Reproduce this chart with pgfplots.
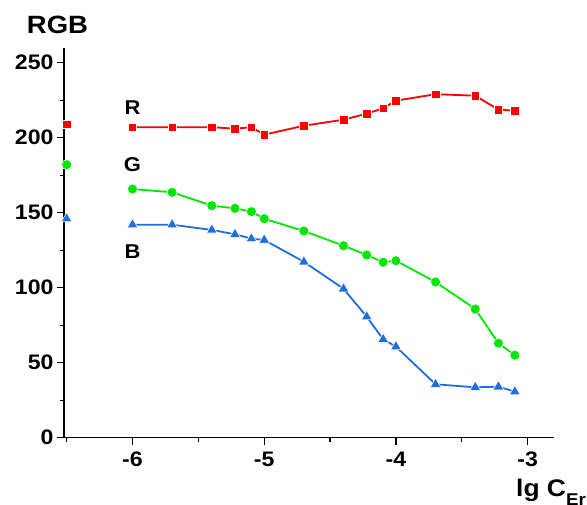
\documentclass[border=0pt]{standalone}
\usepackage{pgfplots}
\pgfplotsset{compat=1.18}
\usepackage{fontspec}
\setmainfont[FakeStretch=1.1]{Liberation Sans}
\definecolor{rr}{RGB}{255,0,0}
\definecolor{gg}{RGB}{0,230,0}
\definecolor{bb}{RGB}{30,110,220}
\begin{document}
\begin{tikzpicture}
\begin{axis}[
  at={(0,0)}, anchor=south west,
  scale only axis, width=490pt, height=390pt,
  xmin=-6.52, xmax=-2.8, ymin=0, ymax=260,
  axis x line*=bottom, axis y line*=left,
  axis line style={line width=1.2pt, -},
  xtick={-6,-5,-4,-3}, minor xtick={-6.5,-5.5,-4.5,-3.5},
  ytick={0,50,100,150,200,250}, minor ytick={25,75,125,175,225},
  tick align=outside,
  major tick length=7pt, minor tick length=4pt,
  every tick/.style={line width=1.2pt, black},
  tick label style={font=\fontsize{21}{24}\selectfont\bfseries},
  /pgf/number format/assume math mode=true,
  xticklabel style={yshift=-4pt},
  yticklabel style={xshift=0pt},
  clip=false,
]
\addplot[rr, line width=1.8pt, mark=square*, mark size=4.3pt, mark options={solid, fill=rr, draw=white, line width=0.6pt}]
coordinates {(-6,207)(-5.699,207)(-5.398,207)(-5.222,206)(-5.097,207)(-5,202)(-4.699,208)(-4.398,212)(-4.222,216)(-4.097,219.6)(-4,224.7)(-3.699,229)(-3.398,228)(-3.222,218.7)(-3.097,218)};
\addplot[only marks, mark=square*, mark size=4.3pt, mark options={fill=rr, draw=white, line width=0.6pt}] coordinates {(-6.5,209)};
\addplot[gg, line width=1.8pt, mark=*, mark size=5pt, mark options={solid, fill=gg, draw=white, line width=0.6pt}]
coordinates {(-6,165.8)(-5.699,163.6)(-5.398,154.7)(-5.222,152.9)(-5.097,150.7)(-5,146)(-4.699,137.8)(-4.398,128)(-4.222,121.8)(-4.097,117)(-4,118)(-3.699,103.8)(-3.398,85.8)(-3.222,63)(-3.097,55)};
\addplot[only marks, mark=*, mark size=5pt, mark options={fill=gg, draw=white, line width=0.6pt}] coordinates {(-6.5,182)};
\addplot[bb, line width=1.8pt, mark=triangle*, mark size=6.2pt, mark options={solid, fill=bb, draw=white, line width=0.6pt}]
coordinates {(-6,142)(-5.699,142)(-5.398,138.5)(-5.222,135.6)(-5.097,132.7)(-5,131.8)(-4.699,117.3)(-4.398,99.3)(-4.222,80.7)(-4.097,65.6)(-4,60.7)(-3.699,35.6)(-3.398,33.6)(-3.222,34)(-3.097,30.7)};
\addplot[only marks, mark=triangle*, mark size=6.2pt, mark options={fill=bb, draw=white, line width=0.6pt}] coordinates {(-6.5,146)};
\node[font=\fontsize{20}{22}\selectfont\bfseries] at (axis cs:-6,219.8) {R};
\node[font=\fontsize{20}{22}\selectfont\bfseries] at (axis cs:-6,181.8) {G};
\node[font=\fontsize{20}{22}\selectfont\bfseries] at (axis cs:-6,123.8) {B};
\end{axis}
\node[font=\fontsize{25}{28}\selectfont\bfseries] at (-6.5pt,412.7pt) {RGB};
\node[font=\fontsize{24}{28}\selectfont\bfseries, anchor=base west, inner sep=0pt] at (452pt,-58.5pt) {lg C\raisebox{-9pt}{\fontsize{17}{20}\selectfont Er}};
\pgfresetboundingbox
\useasboundingbox (-64pt,-66.3pt) rectangle (523pt,437.7pt);
\end{tikzpicture}
\end{document}
